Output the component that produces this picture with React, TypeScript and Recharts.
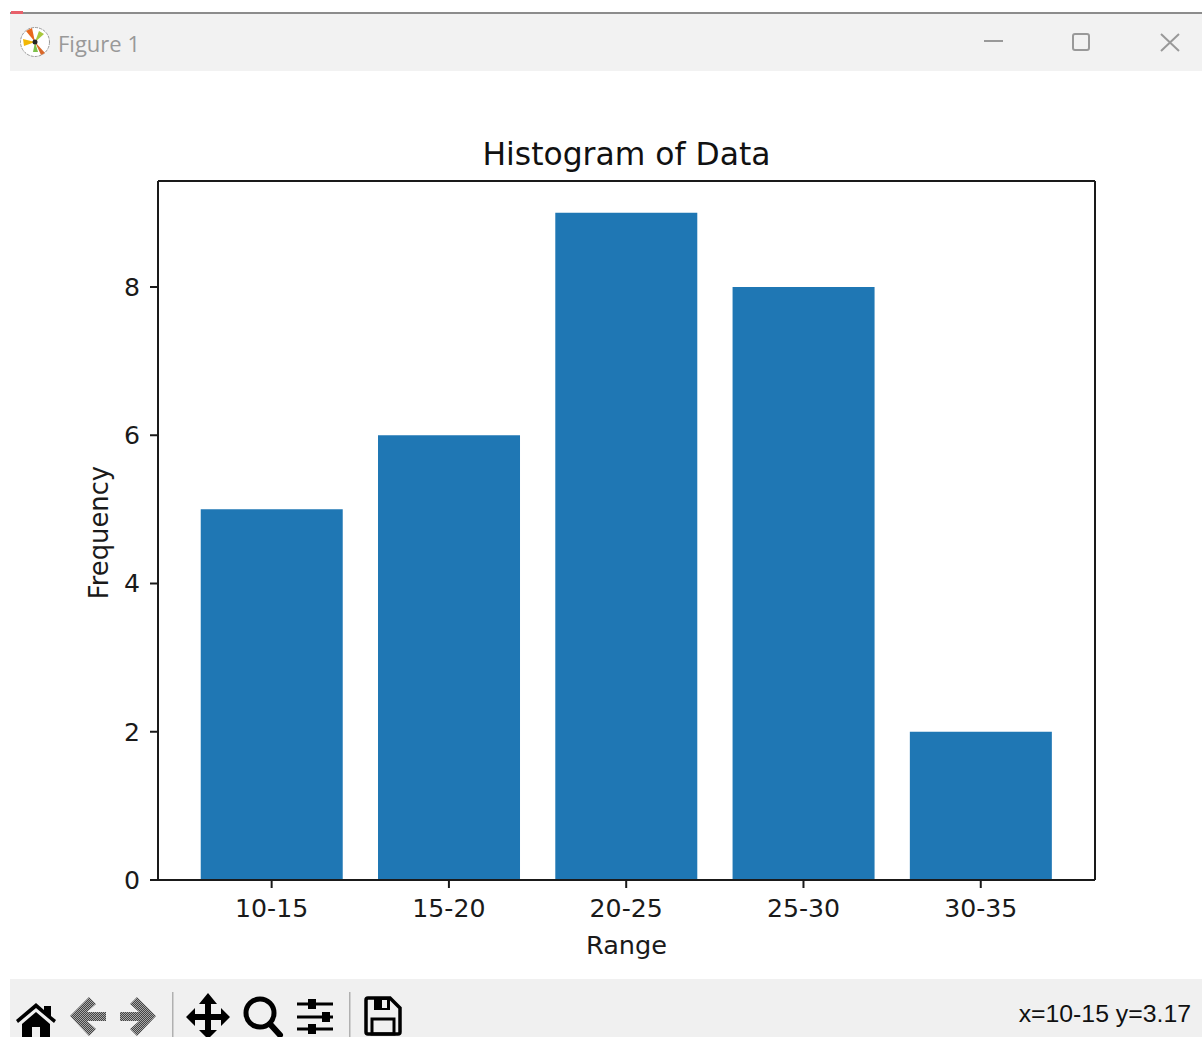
import React from 'react';
import { BarChart, Bar, XAxis, YAxis, Label } from 'recharts';

const categories = ['10-15', '15-20', '20-25', '25-30', '30-35'];
const frequencies = [5, 6, 9, 8, 2];
const yTicks = [0, 2, 4, 6, 8];
const chartTitle = 'Histogram of Data';
const xLabel = 'Range';
const yLabel = 'Frequency';
const windowTitle = 'Figure 1';
const statusText = 'x=10-15 y=3.17';

const rows = categories.map((range, i) => ({ range, frequency: frequencies[i] }));
const FONT = '"DejaVu Sans", sans-serif';
const INK = '#1a1a1a';

const TitleBar = () => (
  <>
    <div style={{ position: 'absolute', left: 10, top: 12, width: 1192, height: 2, background: '#8c8c8c' }} />
    <div style={{ position: 'absolute', left: 10, top: 14, width: 1192, height: 57, background: '#f2f2f2' }} />
    <div style={{ position: 'absolute', left: 11, top: 11, width: 12, height: 3, background: '#e8606a' }} />
    <svg style={{ position: 'absolute', left: 18, top: 25 }} width={36} height={36} viewBox="0 0 36 36">
      <circle cx={17} cy={17} r={14.5} fill="#fff" stroke="#999" strokeWidth={1} strokeDasharray="3 1" />
      <path d="M17 17 L8 6 L14 3 Z" fill="#e8681c" />
      <path d="M17 17 L27 28 L23 30 Z" fill="#d9682a" />
      <path d="M17 17 L5 14 L6 21 Z" fill="#f2b705" />
      <path d="M17 17 L20 27 L15 27 Z" fill="#7cc04a" />
      <path d="M17 17 L21 6 L26 9 Z" fill="#a8c83c" />
      <circle cx={17} cy={17} r={2.5} fill="#222" />
    </svg>
    <div style={{ position: 'absolute', left: 58, top: 27, fontFamily: '"Open Sans", sans-serif', fontSize: 22, lineHeight: '32px', color: '#999' }}>{windowTitle}</div>
    <svg style={{ position: 'absolute', left: 970, top: 20 }} width={232} height={46} viewBox="0 0 232 46" fill="none" stroke="#999" strokeWidth={2}>
      <path d="M14 21 H33" />
      <rect x={103} y={14} width={16} height={16} rx={2} />
      <path d="M191 14 L209 31 M209 14 L191 31" />
    </svg>
  </>
);

const Toolbar = () => (
  <>
    <div style={{ position: 'absolute', left: 10, top: 979, width: 1192, height: 58, background: '#f0f0f0' }} />
    <svg style={{ position: 'absolute', left: 10, top: 979 }} width={420} height={58} viewBox="0 0 420 58">
      <defs>
        <pattern id="dither" width={2} height={2} patternUnits="userSpaceOnUse">
          <rect width={2} height={2} fill="#a8a8a8" />
          <rect width={1} height={1} fill="#444" />
          <rect x={1} y={1} width={1} height={1} fill="#444" />
        </pattern>
      </defs>
      <path d="M6 41 L26 24 L34 31 V27 H41 V37 L46 41 L44 44 L26 29 L8 44 Z" fill="#000" />
      <path d="M12 45 L26 33 L40 45 V58 H30 V48 H22 V58 H12 Z" fill="#000" />
      <path d="M60 37 L79 18 L86 25 L77 33 H96 V42 H77 L86 50 L79 57 Z" fill="url(#dither)" />
      <path d="M146 37 L127 18 L120 25 L129 33 H110 V42 H129 L120 50 L127 57 Z" fill="url(#dither)" />
      <rect x={162} y={13} width={1.5} height={45} fill="#b0b0b0" />
      <path d="M198 14 L207 25 H201 V35 H211 V29 L220 38 L211 47 V41 H201 V51 H207 L198 60 L189 51 H195 V41 H185 V47 L176 38 L185 29 V35 H195 V25 H189 Z" fill="#000" />
      <circle cx={250} cy={34} r={14} fill="none" stroke="#000" strokeWidth={5} />
      <path d="M260 45 L270 56" stroke="#000" strokeWidth={6} strokeLinecap="round" />
      <path d="M287 25 H323 M287 38 H323 M287 50 H323" stroke="#000" strokeWidth={3} />
      <rect x={298} y={20} width={8} height={10} fill="#000" />
      <rect x={312} y={33} width={8} height={10} fill="#000" />
      <rect x={298} y={45} width={8} height={10} fill="#000" />
      <rect x={339} y={13} width={1.5} height={45} fill="#b0b0b0" />
      <path d="M356 21 Q356 19 358 19 H380 L390 29 V53 Q390 55 388 55 H358 Q356 55 356 53 Z" fill="none" stroke="#000" strokeWidth={3.5} />
      <rect x={364} y={19} width={16} height={12} fill="#000" />
      <rect x={372} y={21} width={5} height={8} fill="#f0f0f0" />
      <rect x={362} y={40} width={22} height={15} fill="none" stroke="#000" strokeWidth={3} />
    </svg>
    <div style={{ position: 'absolute', right: 11, top: 998, fontFamily: '"Liberation Sans", Arial, sans-serif', fontSize: 24.8, lineHeight: '32px', color: '#111' }}>{statusText}</div>
  </>
);

export default function App() {
  return (
    <div style={{ position: 'absolute', left: 0, top: 0, width: 1202, height: 1037, background: '#fff', overflow: 'hidden' }}>
      <TitleBar />
      <div style={{ position: 'absolute', left: 158, width: 937, top: 134, textAlign: 'center', fontFamily: FONT, fontSize: 31.4, lineHeight: '40px', color: '#111' }}>{chartTitle}</div>
      <BarChart
        width={1202}
        height={1037}
        data={rows}
        margin={{ top: 180, right: 106, bottom: 97, left: 98 }}
        barCategoryGap="10%"
        style={{ position: 'absolute', left: 0, top: 0 }}
      >
        <XAxis
          dataKey="range"
          xAxisId="bottom"
          height={60}
          padding={{ left: 25, right: 25.6 }}
          interval={0}
          tickSize={8}
          tickMargin={11}
          tick={{ fill: INK, fontFamily: FONT, fontSize: 25.2 }}
          axisLine={{ stroke: INK, strokeWidth: 2 }}
          tickLine={{ stroke: INK, strokeWidth: 2 }}
        >
          <Label value={xLabel} position="insideBottom" offset={-14} fill={INK} fontFamily={FONT} fontSize={25.6} />
        </XAxis>
        <XAxis dataKey="range" xAxisId="top" orientation="top" height={1} tick={false} tickLine={false} axisLine={{ stroke: INK, strokeWidth: 2 }} />
        <YAxis
          yAxisId="left"
          width={60}
          domain={[0, 9.43]}
          ticks={yTicks}
          tickSize={8}
          tickMargin={10}
          tick={{ fill: INK, fontFamily: FONT, fontSize: 25.2 }}
          axisLine={{ stroke: INK, strokeWidth: 2 }}
          tickLine={{ stroke: INK, strokeWidth: 2 }}
        >
          <Label value={yLabel} angle={-90} position="left" offset={-1} dy={2} style={{ textAnchor: 'middle' }} fill={INK} fontFamily={FONT} fontSize={25.8} />
        </YAxis>
        <YAxis yAxisId="right" orientation="right" width={1} domain={[0, 9.43]} tick={false} tickLine={false} axisLine={{ stroke: INK, strokeWidth: 2 }} />
        <Bar dataKey="frequency" xAxisId="bottom" yAxisId="left" fill="#1f77b4" isAnimationActive={false} />
      </BarChart>
      <Toolbar />
    </div>
  );
}
